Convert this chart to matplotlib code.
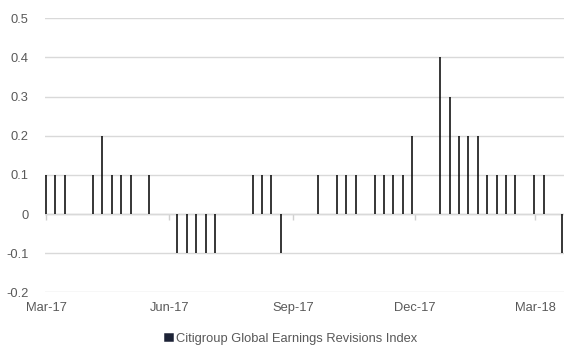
import matplotlib
matplotlib.use("Agg")
import matplotlib.pyplot as plt
import matplotlib.dates as mdates
import numpy as np
import pandas as pd

# weekly revisions index, Mar-2017 .. Mar-2018
start_date = "2017-03-01"
values = [0.1, 0.1, 0.1, 0, 0, 0.1, 0.2, 0.1, 0.1, 0.1,
          0, 0.1, 0, 0, -0.1, -0.1, -0.1, -0.1, -0.1, 0,
          0, 0, 0.1, 0.1, 0.1, -0.1, 0, 0, 0, 0.1,
          0, 0.1, 0.1, 0.1, 0, 0.1, 0.1, 0.1, 0.1, 0.2,
          0, 0, 0.4, 0.3, 0.2, 0.2, 0.2, 0.1, 0.1, 0.1,
          0.1, 0, 0.1, 0.1, 0, -0.1]
tick_dates = ["2017-03-01", "2017-06-01", "2017-09-01", "2017-12-01", "2018-03-01"]
y_ticks = [-0.2, -0.1, 0, 0.1, 0.2, 0.3, 0.4, 0.5]
series_name = "Citigroup Global Earnings Revisions Index"

dates = pd.date_range(start_date, periods=len(values), freq="7D")

plt.rcParams["font.family"] = ["Liberation Sans", "DejaVu Sans"]
grey = "#595959"

fig = plt.figure(figsize=(5.82, 3.6), dpi=100)
ax = fig.add_axes([0.0773, 0.188, 0.8923, 0.761])

ax.grid(axis="y", color="#d9d9d9", linewidth=1, zorder=0)
ax.axhline(0, color="#d0d0d0", linewidth=1, zorder=1)

# thin bars: zero-width rects with a fixed-width edge so every bar looks the same
ax.bar(dates, values, width=0, color="black", edgecolor="black",
       linewidth=1.1, zorder=3, label=series_name)

ax.set_ylim(-0.2, 0.5)
ax.set_yticks(y_ticks)
ax.set_yticklabels(["0" if v == 0 else f"{v:.1f}" for v in y_ticks])
ax.set_xlim(dates[0] - pd.Timedelta(days=0.8), dates[-1] + pd.Timedelta(days=1.5))
ticks = pd.to_datetime(tick_dates)
ax.set_xticks(ticks)
ax.xaxis.set_major_formatter(mdates.DateFormatter("%b-%y"))

for s in ax.spines.values():
    s.set_visible(False)
ax.tick_params(axis="both", length=0, labelsize=9.3, labelcolor=grey)
ax.tick_params(axis="y", pad=12)
ax.tick_params(axis="x", pad=7)

# small tick marks on the zero line
sec = ax.secondary_xaxis(0.2 / 0.7)
sec.set_xticks(ticks)
sec.set_xticklabels([])
sec.spines["bottom"].set_visible(False)
sec.tick_params(length=4, color="#d0d0d0", width=1)

leg = fig.legend(loc="lower center", bbox_to_anchor=(0.5, 0.01), frameon=False,
                 fontsize=9.3, labelcolor=grey, handlelength=0.65, handleheight=0.45,
                 handletextpad=0.25)
for h in leg.legend_handles:
    h.set_facecolor("#1c2236")
    h.set_edgecolor("#1c2236")

fig.savefig("out.png", dpi=100)
